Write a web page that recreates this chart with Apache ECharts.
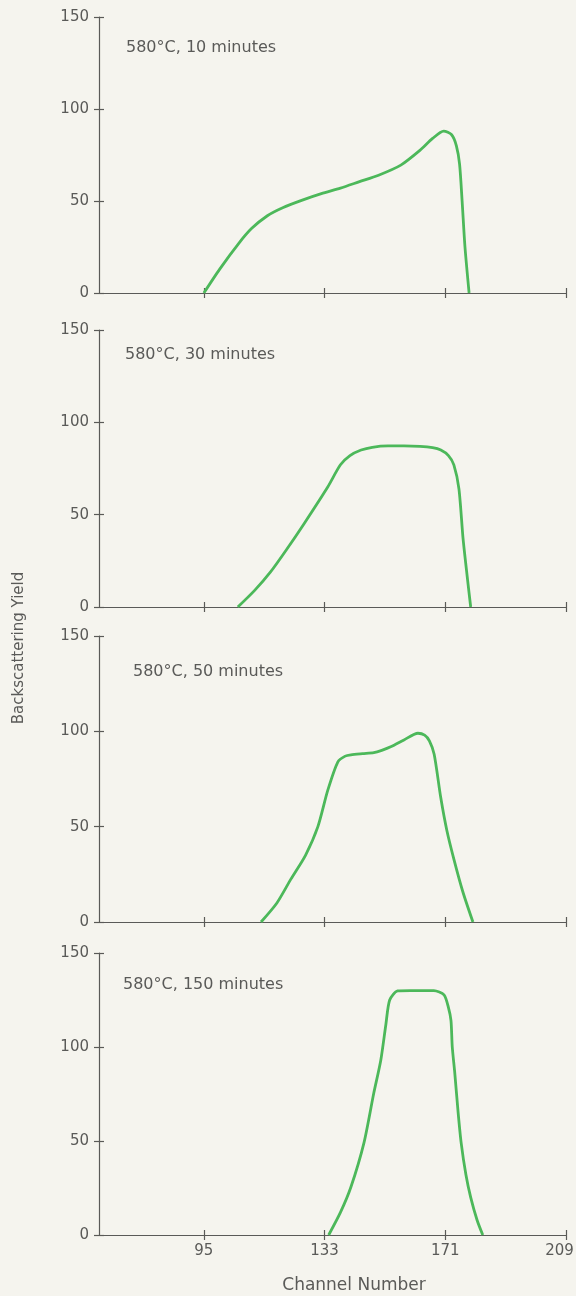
<!DOCTYPE html>
<html>
<head>
<meta charset="utf-8">
<script src="https://cdn.jsdelivr.net/npm/echarts@6/dist/echarts.min.js"></script>
<style>
  html, body { margin: 0; padding: 0; background: #f5f4ee; }
  #chart { width: 576px; height: 1296px; }
</style>
</head>
<body>
<div id="chart"></div>
<script>
// channel ticks shared by all panels
const channelTicks = [95, 133, 171, 209];
const yieldTicks = [0, 50, 100, 150];

const panelLabels = ['580°C, 10 minutes', '580°C, 30 minutes', '580°C, 50 minutes', '580°C, 150 minutes'];

// curves (channel, yield)
const ch10 = [95, 100, 106, 110, 115, 120, 126, 132, 138, 144, 150, 157, 163, 167, 170.5, 173, 174.5, 175.5, 176.3, 177.2, 178.5];
const y10 = [0, 13, 27, 35, 42, 46.5, 50.5, 54, 57, 60.5, 64, 69.5, 77.5, 84, 88, 86, 80, 70, 50, 25, 0];

const ch30 = [105.7, 111, 116, 121, 126.5, 134, 138, 141, 144.5, 148, 153, 158, 163, 167, 169.6, 172, 173.7, 175.3, 176.6, 178, 179];
const y30 = [0, 9, 19, 31, 45, 65, 77, 82, 85, 86.5, 87.2, 87.2, 87, 86.3, 85, 82, 77, 64, 37, 15, 0];

const ch50 = [113, 118, 122.4, 127, 130.9, 134, 137.2, 139.5, 141.3, 145, 148.5, 151, 154, 158, 162.4, 164.5, 166, 167.5, 169.6, 171.5, 173.7, 176.5, 179.7];
const y50 = [0, 10, 22.5, 35, 50, 69, 84, 87, 87.7, 88.3, 88.8, 90, 92, 95.5, 99, 98, 95, 88, 65, 48, 33, 16, 0];

const ch150 = [134.3, 138, 141.3, 145.4, 148.5, 150.7, 152.3, 153.5, 156, 160, 164, 167.4, 170.6, 172, 172.8, 173.2, 174, 175, 176, 177.5, 179, 181, 182.8];
const y150 = [0, 12, 25.5, 49, 75.5, 93, 112, 125, 129.8, 130, 130, 130, 127.7, 121, 114, 100, 86, 66, 49, 32, 20, 8, 0];

const curves = [[ch10, y10], [ch30, y30], [ch50, y50], [ch150, y150]];

// pixel layout of the four panels
const panelTops = [17, 330, 636, 953];
const panelHeights = [276, 277, 286, 282];
const labelXs = [126, 125, 133, 123];
const labelYs = [48, 355, 672, 985];

const axisColor = '#5a5a58';
const textColor = '#5a5a58';
const lineGreen = '#4cb85a';
const font = "'DejaVu Sans', sans-serif";

const chart = echarts.init(document.getElementById('chart'));

const grid = [], xAxis = [], yAxis = [], series = [], graphic = [];

curves.forEach((c, i) => {
  grid.push({ left: 99, right: 10, top: panelTops[i], height: panelHeights[i], outerBoundsMode: 'none', containLabel: false });
  const last = i === curves.length - 1;
  // two axes per side so the ticks cross the line
  [false, true].forEach(inside => {
    xAxis.push({
      type: 'value', gridIndex: i, min: 62, max: 209, position: 'bottom',
      axisLine: { show: !inside, onZero: false, lineStyle: { color: axisColor, width: 1.2 } },
      axisTick: { show: true, inside: inside, length: 5, customValues: channelTicks, lineStyle: { color: axisColor, width: 1.2 } },
      axisLabel: {
        show: last && !inside, customValues: channelTicks, color: textColor, fontSize: 15, fontFamily: font, margin: 9,
        // last label pulled left so it stays on the page
        formatter: v => v === 209 ? '{end|209}' : String(v),
        rich: { end: { color: textColor, fontSize: 15, fontFamily: font, padding: [0, 13, 0, 0] } }
      },
      splitLine: { show: false }
    });
    yAxis.push({
      type: 'value', gridIndex: i, min: 0, max: 150, interval: 50, position: 'left',
      axisLine: { show: !inside, onZero: false, lineStyle: { color: axisColor, width: 1.2 } },
      axisTick: { show: true, inside: inside, length: 5, lineStyle: { color: axisColor, width: 1.2 } },
      axisLabel: { show: !inside, color: textColor, fontSize: 15, fontFamily: font, margin: 10 },
      splitLine: { show: false }
    });
  });
  series.push({
    type: 'line', xAxisIndex: i * 2, yAxisIndex: i * 2,
    data: c[0].map((x, k) => [x, c[1][k]]),
    smooth: 0.25, showSymbol: false,
    lineStyle: { color: lineGreen, width: 2.8 }
  });
  graphic.push({
    type: 'text', x: labelXs[i], y: labelYs[i],
    style: { text: panelLabels[i], fill: textColor, font: '16px ' + font, verticalAlign: 'middle' }
  });
});

graphic.push({
  type: 'text', x: 19, y: 648, rotation: Math.PI / 2,
  style: { text: 'Backscattering Yield', fill: textColor, font: '15px ' + font, align: 'center', verticalAlign: 'middle' }
});
graphic.push({
  type: 'text', x: 354, y: 1286,
  style: { text: 'Channel Number', fill: textColor, font: '17px ' + font, align: 'center', verticalAlign: 'middle' }
});

chart.setOption({
  backgroundColor: '#f5f4ee',
  animation: false,
  grid: grid,
  xAxis: xAxis,
  yAxis: yAxis,
  series: series,
  graphic: graphic
});
</script>
</body>
</html>
